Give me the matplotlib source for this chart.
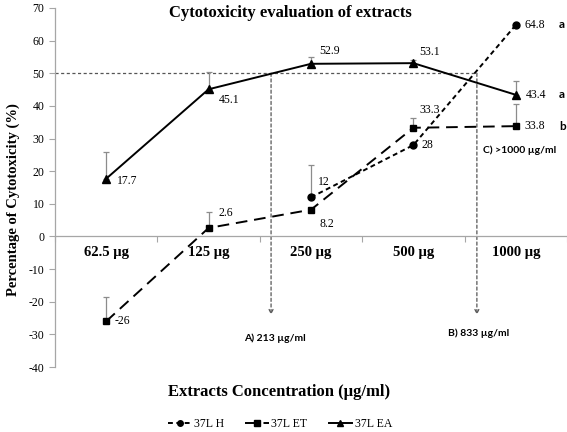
import numpy as np
import matplotlib
matplotlib.use("Agg")
import matplotlib.pyplot as plt

plt.rcParams["axes.unicode_minus"] = False

# concentrations (categories) and measured cytotoxicity (%)
categories = ["62.5 µg", "125 µg", "250 µg", "500 µg", "1000 µg"]
h_idx = [2, 3, 4]
h_vals = [12, 28, 64.8]
h_err = [10.0, 0, 0]
et_vals = [-26, 2.6, 8.2, 33.3, 33.8]
et_err = [7.4, 4.9, 0, 3.0, 6.7]
ea_vals = [17.7, 45.1, 52.9, 53.1, 43.4]
ea_err = [8.2, 5.2, 2.1, 1.0, 4.1]

# IC50 read-outs (position on the category axis)
ic50_x = [1.61, 3.62]
ic50_text = ["A) 213 µg/ml", "B) 833 µg/ml"]
c_text = "C) >1000 µg/ml"
threshold = 50
letters = ["a", "b", "a"]  # H, ET, EA at 1000 µg

# label offsets in points (dx, dy)
h_off = [(5, 11), (6, 0), (6, 0)]
et_off = [(6, 0), (7, 11), (6, -10), (4, 13), (6, 0)]
ea_off = [(8, -2), (7, -8), (6, 9), (4, 8), (7, 0)]

serif = "Liberation Serif"
sans = "Lato"

fig = plt.figure(figsize=(5.67, 4.32), dpi=100)
ax = fig.add_axes([55 / 567, 1 - 367 / 432, 1 - 55 / 567, (367 - 8) / 432])

x_all = np.arange(len(categories))
errc = "#8c8c8c"

# threshold and IC50 guides
ax.plot([-0.5, ic50_x[1]], [threshold, threshold], color="#555555", lw=0.9, ls=(0, (2.5, 2)), zorder=1)
for xv in ic50_x:
    ax.annotate("", xy=(xv, -24), xytext=(xv, threshold),
                arrowprops=dict(arrowstyle="->", color="#555555", lw=0.9,
                                linestyle=(0, (2.5, 2)), shrinkA=0, shrinkB=0,
                                mutation_scale=7), zorder=1)
ax.text(ic50_x[0] + 0.04, -31.3, ic50_text[0], ha="center", va="center",
        family=sans, fontweight="bold", fontsize=7.5)
ax.text(ic50_x[1] + 0.02, -29.5, ic50_text[1], ha="center", va="center",
        family=sans, fontweight="bold", fontsize=7.5)
ax.text(ic50_x[1] + 0.06, 26.5, c_text, ha="left", va="center",
        family=sans, fontweight="bold", fontsize=7.5)

# error bars (upper only)
for xs, ys, es in [(h_idx, h_vals, h_err), (x_all, et_vals, et_err), (x_all, ea_vals, ea_err)]:
    ax.errorbar(xs, ys, yerr=[np.zeros(len(es)), es], fmt="none",
                ecolor=errc, elinewidth=0.9, capsize=2.5, capthick=0.9, zorder=2)

lh, = ax.plot(h_idx, h_vals, color="black", lw=1.4, ls=(0, (2.5, 1.8)),
              marker="o", ms=5, label="37L H", zorder=3)
le, = ax.plot(x_all, et_vals, color="black", lw=1.4, ls=(0, (6, 3.5)),
              marker="s", ms=5, label="37L ET", zorder=3)
la, = ax.plot(x_all, ea_vals, color="black", lw=1.4, ls="-",
              marker="^", ms=6, label="37L EA", zorder=3)

def label_points(xs, ys, offs):
    for xv, yv, (dx, dy) in zip(xs, ys, offs):
        ax.annotate(f"{yv:g}", (xv, yv), xytext=(dx, dy), textcoords="offset points",
                    ha="left", va="center", family=serif, fontsize=8.5)

label_points(h_idx, h_vals, h_off)
label_points(x_all, et_vals, et_off)
label_points(x_all, ea_vals, ea_off)

for series, letter in zip([h_vals[-1], et_vals[-1], ea_vals[-1]], letters):
    ax.annotate(letter, (4, series), xytext=(31, 0), textcoords="offset points",
                ha="left", va="center", family=sans, fontweight="bold", fontsize=8.5)

# axes styling
ax.set_xlim(-0.5, 4.5)
ax.set_ylim(-40, 70)
ax.set_yticks(np.arange(-40, 71, 10))
ax.spines["top"].set_visible(False)
ax.spines["right"].set_visible(False)
ax.spines["bottom"].set_position(("data", 0))
for s in ("left", "bottom"):
    ax.spines[s].set_color("#a6a6a6")
    ax.spines[s].set_linewidth(0.9)
ax.set_xticks(np.arange(-0.5, 4.6, 1))
ax.set_xticklabels([])
ax.set_xticks(x_all, minor=True)
ax.set_xticklabels(categories, minor=True, family=serif, fontweight="bold", fontsize=10.5)
ax.tick_params(axis="x", which="major", direction="out", length=4, color="#a6a6a6")
ax.tick_params(axis="x", which="minor", length=0, pad=7)
ax.tick_params(axis="y", direction="out", length=4, color="#a6a6a6", labelsize=8.5)
for t in ax.get_yticklabels():
    t.set_family(serif)
ax.patch.set_visible(False)

fig.text(290 / 567, 1 - 13 / 432, "Cytotoxicity evaluation of extracts", ha="center", va="center",
         family=serif, fontweight="bold", fontsize=12)
fig.text(279 / 567, 1 - 392 / 432, "Extracts Concentration (µg/ml)", ha="center", va="center",
         family=serif, fontweight="bold", fontsize=12)
fig.text(13 / 567, 1 - 200 / 432, "Percentage of Cytotoxicity (%)", ha="center", va="center",
         rotation=90, family=serif, fontweight="bold", fontsize=10.5)

fig.legend(handles=[lh, le, la], loc="center", bbox_to_anchor=(280 / 567, 1 - 424 / 432),
           ncol=3, frameon=False, prop=dict(family=serif, size=8.5),
           handlelength=2.0, handletextpad=0.2, columnspacing=1.8, markerscale=0.8)

fig.savefig("out.png", dpi=100)
